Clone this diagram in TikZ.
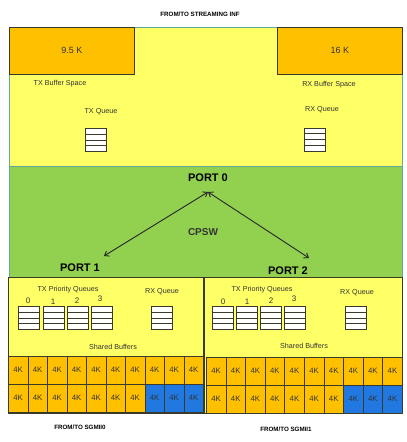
\documentclass[tikz,border=0pt]{standalone}
\usepackage{fontspec}
\setmainfont{Liberation Sans}
\usetikzlibrary{arrows.meta}
\definecolor{yel}{HTML}{FFFF66}
\definecolor{org}{HTML}{FFC000}
\definecolor{grn}{HTML}{92D050}
\definecolor{blu}{HTML}{2078E0}
\definecolor{edge}{HTML}{3A3A2A}
\definecolor{tealedge}{HTML}{5FA89A}
\definecolor{txt}{HTML}{333333}
\tikzset{
  lbl/.style={font=\fontsize{7.2}{8}\selectfont, text=txt, inner sep=0pt},
  num/.style={font=\fontsize{8}{9}\selectfont, text=txt, inner sep=0pt},
  hdr/.style={font=\fontsize{6.2}{7}\selectfont\bfseries, inner sep=0pt},
  port/.style={font=\fontsize{11}{12}\selectfont\bfseries, inner sep=0pt},
  bigbuf/.style={draw=edge, line width=0.6pt, fill=org, minimum width=125pt, minimum height=47pt, anchor=north west, inner sep=0pt, text=txt, font=\fontsize{9}{10}\selectfont},
  qbox/.style={draw=edge, line width=0.9pt, fill=white, minimum width=21pt, minimum height=23pt, inner sep=0pt,
    path picture={
      \foreach \f in {0.25,0.5,0.75}{
        \draw[edge, line width=0.9pt] ([yshift=-\f*23pt]path picture bounding box.north west) -- ([yshift=-\f*23pt]path picture bounding box.north east);}
    }},
  cellbox/.style={draw=edge, line width=0.6pt, fill=org, inner sep=0pt, text=txt, font=\fontsize{7.8}{8}\selectfont},
  barrow/.style={{Straight Barb[length=4pt,width=6pt]}-{Straight Barb[length=4pt,width=6pt]}, line width=0.9pt, draw=black!85}
}
\begin{document}
\begin{tikzpicture}[x=1pt,y=-1pt]
\useasboundingbox (0,0) rectangle (407,442);
\fill[white] (0,0) rectangle (407,442);
% top yellow region
\draw[fill=yel, draw=tealedge, line width=0.8pt] (9,27) rectangle (402,166);
\node[bigbuf] (txbuf) at (9,27) {9.5 K};
\node[bigbuf] (rxbuf) at (277,27) {16 K};
\node[hdr] (top) at (200,14) {FROM/TO STREAMING INF};
\node[lbl] (txbs) at (60,84) {TX Buffer Space};
\node[lbl] (rxbs) at (329,85) {RX Buffer Space};
\node[lbl] (txql) at (101,112) {TX Queue};
\node[lbl] (rxql) at (322,110) {RX Queue};
\node[qbox, anchor=north west] (txq) at (85,128) {};
\node[qbox, anchor=north west] (rxq) at (304,127.5) {};
% green CPSW region
\draw[fill=grn, draw=tealedge, line width=0.6pt] (9,166) rectangle (402,277);
\node[port] (p0) at (208,178) {PORT 0};
\node[lbl, font=\fontsize{10}{11}\selectfont\bfseries] (cpsw) at (203,232) {CPSW};
\node[port] (p1) at (80,268) {PORT 1};
\node[port] (p2) at (288,271) {PORT 2};
\coordinate (a0) at (208,192);
\coordinate (a1) at (104,256);
\coordinate (a2) at (309,258);
\draw[barrow] (a1) -- (a0);
\draw[barrow] (a0) -- (a2);
% port 1 box
\draw[fill=yel, draw=edge, line width=0.8pt] (8,277) rectangle (203,413);
\node[lbl] (tpq1) at (68,290) {TX Priority Queues};
\node[num] (n10) at (28,301) {0};
\node[num] (n11) at (53,302) {1};
\node[num] (n12) at (77,301) {2};
\node[num] (n13) at (100,299) {3};
\node[qbox, anchor=north west] (q10) at (18,306) {};
\node[qbox, anchor=north west] (q11) at (43,306) {};
\node[qbox, anchor=north west] (q12) at (67,306) {};
\node[qbox, anchor=north west] (q13) at (91,306) {};
\node[lbl] (rxl1) at (162,292) {RX Queue};
\node[qbox, anchor=north west] (rq1) at (151,306) {};
\node[lbl] (sb1) at (113,347) {Shared Buffers};
\foreach \i in {0,...,9}{
  \node[cellbox, minimum width=19.5pt, minimum height=27.5pt, anchor=north west] (l1c\i) at ({8+19.5*\i},356) {4K};
  \pgfmathtruncatemacro{\isblue}{\i>6 ? 1 : 0}
  \ifnum\isblue=1
    \node[cellbox, fill=blu, minimum width=19.5pt, minimum height=28pt, anchor=north west] (l2c\i) at ({8+19.5*\i},383.5) {4K};
  \else
    \node[cellbox, minimum width=19.5pt, minimum height=28pt, anchor=north west] (l2c\i) at ({8+19.5*\i},383.5) {4K};
  \fi
}
\node[hdr] (sg0) at (80,427) {FROM/TO SGMII0};
% port 2 box
\draw[fill=yel, draw=edge, line width=0.8pt] (204,277) rectangle (402,413);
\node[lbl] (tpq2) at (262,290) {TX Priority Queues};
\node[num] (n20) at (223,302) {0};
\node[num] (n21) at (247,302) {1};
\node[num] (n22) at (271,301) {2};
\node[num] (n23) at (294,299) {3};
\node[qbox, anchor=north west] (q20) at (212,306) {};
\node[qbox, anchor=north west] (q21) at (236,306) {};
\node[qbox, anchor=north west] (q22) at (260,306) {};
\node[qbox, anchor=north west] (q23) at (284,306) {};
\node[lbl] (rxl2) at (357,293) {RX Queue};
\node[qbox, anchor=north west] (rq2) at (345,306) {};
\node[lbl] (sb2) at (304,346) {Shared Buffers};
\foreach \i in {0,...,9}{
  \node[cellbox, minimum width=19.6pt, minimum height=27.5pt, anchor=north west] (r1c\i) at ({206+19.6*\i},357) {4K};
  \pgfmathtruncatemacro{\isblue}{\i>6 ? 1 : 0}
  \ifnum\isblue=1
    \node[cellbox, fill=blu, minimum width=19.6pt, minimum height=28pt, anchor=north west] (r2c\i) at ({206+19.6*\i},384.5) {4K};
  \else
    \node[cellbox, minimum width=19.6pt, minimum height=28pt, anchor=north west] (r2c\i) at ({206+19.6*\i},384.5) {4K};
  \fi
}
\node[hdr] (sg1) at (286,429) {FROM/TO SGMII1};
\end{tikzpicture}
\end{document}
